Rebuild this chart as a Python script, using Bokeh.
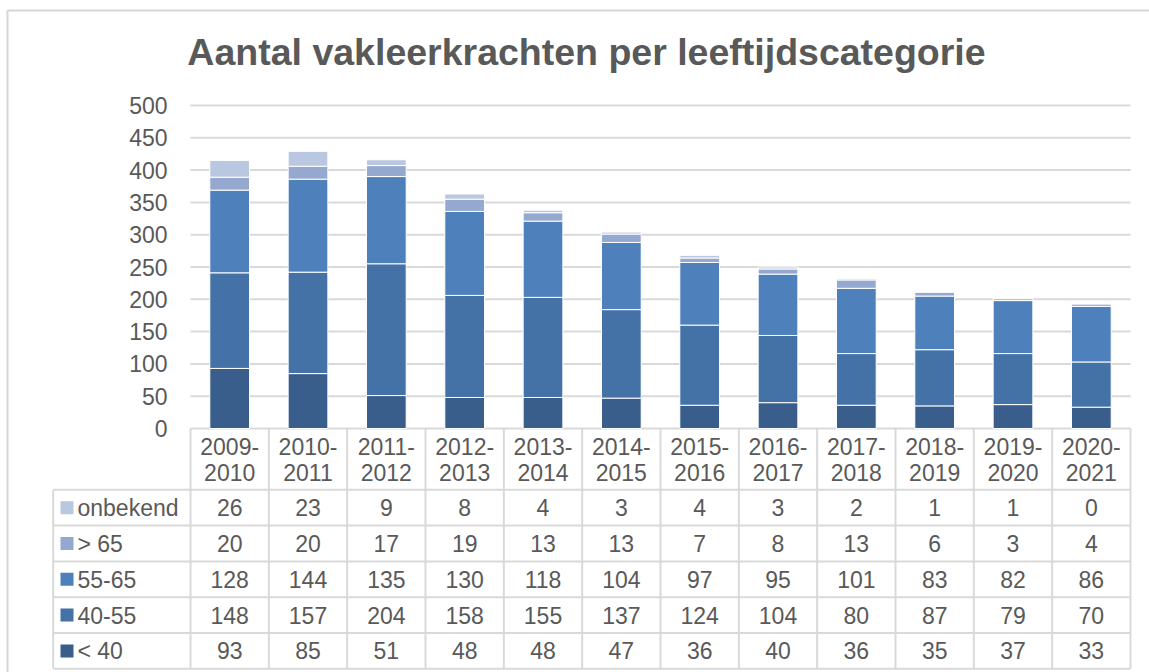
from bokeh.plotting import figure
from bokeh.models import Range1d, LinearAxis, FixedTicker
from bokeh.core.properties import value
from bokeh.embed import file_html
from bokeh.resources import INLINE

# ---------------- data ----------------
years = ["2009-2010", "2010-2011", "2011-2012", "2012-2013", "2013-2014", "2014-2015",
         "2015-2016", "2016-2017", "2017-2018", "2018-2019", "2019-2020", "2020-2021"]
series_names = ["< 40", "40-55", "55-65", "> 65", "onbekend"]
lt40 = [93, 85, 51, 48, 48, 47, 36, 40, 36, 35, 37, 33]
a40_55 = [148, 157, 204, 158, 155, 137, 124, 104, 80, 87, 79, 70]
a55_65 = [128, 144, 135, 130, 118, 104, 97, 95, 101, 83, 82, 86]
gt65 = [20, 20, 17, 19, 13, 13, 7, 8, 13, 6, 3, 4]
onbekend = [26, 23, 9, 8, 4, 3, 4, 3, 2, 1, 1, 0]
series_values = [lt40, a40_55, a55_65, gt65, onbekend]
series_colors = ["#3A5E8C", "#4472A7", "#4E80BC", "#95A9D0", "#B9C7E1"]
y_ticks = [0, 50, 100, 150, 200, 250, 300, 350, 400, 450, 500]
title_text = "Aantal vakleerkrachten per leeftijdscategorie"

# ---------------- layout helpers (pixel -> data) ----------------
W, H = 1149, 672
PX0, PX1 = 190.0, 1130.0          # category area
CW = (PX1 - PX0) / len(years)     # px per category
PY0, PY500 = 428.0, 105.0         # value 0 and 500
K = (PY0 - PY500) / 500.0         # px per unit


def X(px):
    return (px - PX0) / CW


def Y(py):
    return (PY0 - py) / K


TXT = "#595959"
GRID = "#d9d9d9"
FONT = value("Liberation Sans")
FS = "23px"

p = figure(width=W, height=H, output_backend="svg", toolbar_location=None,
           x_range=Range1d(X(0), X(W)), y_range=Range1d(Y(H), Y(0)),
           x_axis_type=None, y_axis_type=None, min_border=0)
p.outline_line_color = None
p.background_fill_color = "white"
p.border_fill_color = "white"

# outer chart border
p.segment(x0=[X(7), X(7)], y0=[Y(10), Y(10)], x1=[X(7), X(W + 5)], y1=[Y(H + 5), Y(10)],
          line_color="#d6d6d6", line_width=2)

# title
p.text(x=[X(586)], y=[Y(51.5)], text=[title_text], text_font=FONT, text_font_size="37.5px",
       text_font_style="bold", text_color=TXT, text_align="center",
       text_baseline="middle")

# gridlines
p.segment(x0=[0] * len(y_ticks), x1=[len(years)] * len(y_ticks), y0=y_ticks, y1=y_ticks,
          line_color=GRID, line_width=2)

# y axis
ax = LinearAxis(ticker=FixedTicker(ticks=y_ticks), fixed_location=0)
ax.axis_line_color = None
ax.major_tick_line_color = None
ax.minor_tick_line_color = None
ax.major_label_text_font = "Liberation Sans"
ax.major_label_text_font_size = FS
ax.major_label_text_color = TXT
ax.major_label_standoff = 17
p.add_layout(ax, "left")

# stacked bars
xs = [i + 0.5 for i in range(len(years))]
bottom = [0] * len(years)
for vals, col in zip(series_values, series_colors):
    top = [b + v for b, v in zip(bottom, vals)]
    p.vbar(x=xs, bottom=bottom, top=top, width=0.507, fill_color=col,
           line_color="white", line_width=1)
    bottom = top

# ---------------- data table ----------------
HEADER_BOTTOM = 489.3
ROW_H = 35.8
LEG_LEFT = 52.7
n_rows = len(series_names)
row_tops = [HEADER_BOTTOM + r * ROW_H for r in range(n_rows + 1)]
TABLE_BOTTOM = row_tops[-1]

# horizontal lines
hx0 = [X(LEG_LEFT)] * len(row_tops)
hx1 = [len(years)] * len(row_tops)
p.segment(x0=hx0, x1=hx1, y0=[Y(v) for v in row_tops], y1=[Y(v) for v in row_tops],
          line_color=GRID, line_width=2)
# vertical lines
vx = list(range(len(years) + 1))
p.segment(x0=vx, x1=vx, y0=[0] * len(vx), y1=[Y(TABLE_BOTTOM)] * len(vx),
          line_color=GRID, line_width=2)
p.segment(x0=[X(LEG_LEFT)], x1=[X(LEG_LEFT)], y0=[Y(HEADER_BOTTOM)], y1=[Y(TABLE_BOTTOM)],
          line_color=GRID, line_width=2)

# header labels
first = [y.split("-")[0] + "-" for y in years]
second = [y.split("-")[1] for y in years]
p.text(x=xs, y=[Y(445.5)] * len(xs), text=first, text_font=FONT, text_font_size=FS,
       text_color=TXT, text_align="center", text_baseline="middle")
p.text(x=xs, y=[Y(471.5)] * len(xs), text=second, text_font=FONT, text_font_size=FS,
       text_color=TXT, text_align="center", text_baseline="middle")

# rows (top to bottom: reverse stack order)
for r, idx in enumerate(reversed(range(n_rows))):
    cy = Y(row_tops[r] + ROW_H / 2)
    p.scatter(x=[X(66.5)], y=[cy], marker="square", size=13,
              fill_color=series_colors[idx], line_color=None)
    p.text(x=[X(77)], y=[cy], text=[series_names[idx]], text_font=FONT, text_font_size=FS,
           text_color=TXT, text_align="left", text_baseline="middle")
    p.text(x=xs, y=[cy] * len(xs), text=[str(v) for v in series_values[idx]],
           text_font=FONT, text_font_size=FS, text_color=TXT, text_align="center",
           text_baseline="middle")

open("out.html", "w").write(file_html(p, INLINE))
